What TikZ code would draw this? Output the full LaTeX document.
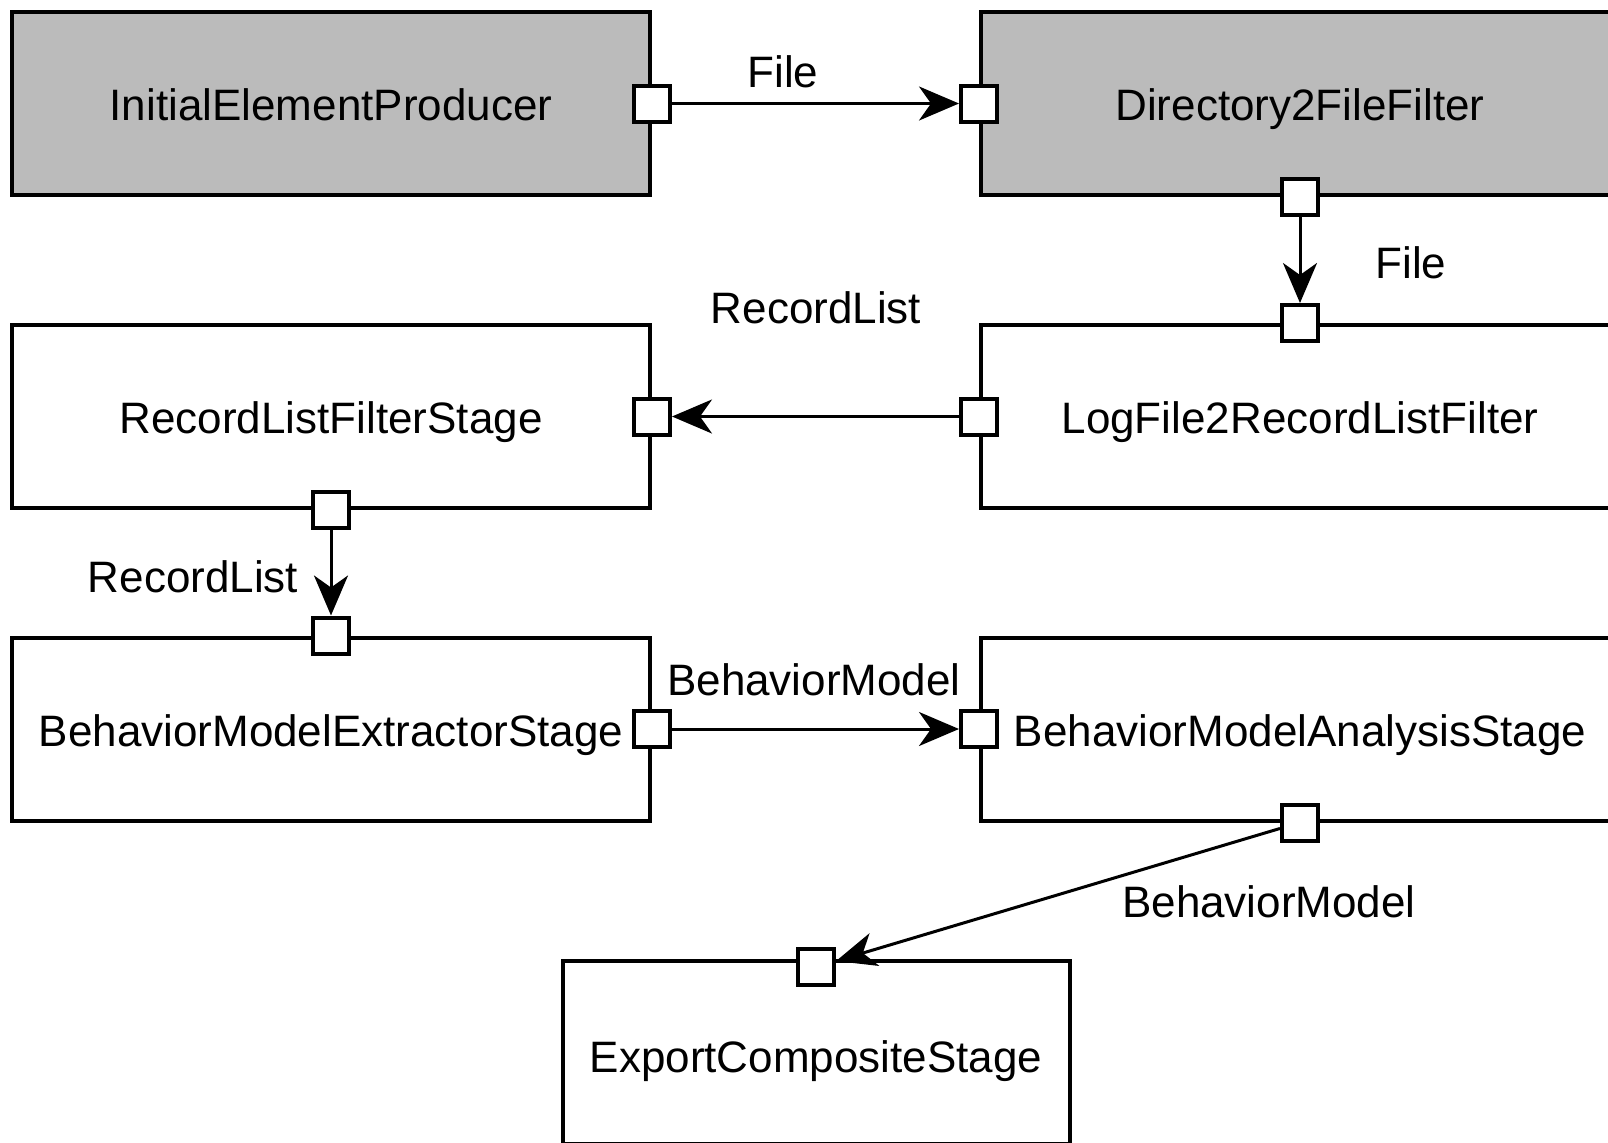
\documentclass[tikz,border=0pt]{standalone}
\usepackage{fontspec}
\setmainfont{Liberation Sans}
\usetikzlibrary{arrows.meta}
\definecolor{boxgray}{RGB}{187,187,187}
\begin{document}
\begin{tikzpicture}[x=0.5pt,y=-0.5pt,
  comp/.style={draw, line width=2pt, minimum width=319pt, minimum height=91.5pt, inner sep=0pt, text height=17pt, text depth=0pt, font=\fontsize{22}{26}\selectfont},
  active/.style={comp, fill=boxgray},
  port/.style={draw, line width=2pt, fill=white, minimum size=18pt, inner sep=0pt},
  conn/.style={line width=1.5pt, -{Stealth[length=20pt,width=17pt,inset=6pt]}},
  lbl/.style={font=\fontsize{22}{26}\selectfont, inner sep=0pt}]
\clip (0,0) rectangle (1608,1142);
\fill[white] (0,0) rectangle (1608,1142);
% components
\node[active] (ie)  at (331,103.5) {InitialElementProducer};
\node[active] (d2f) at (1300,103.5) {Directory2FileFilter};
\node[comp]   (rl)  at (331,416.5) {RecordListFilterStage};
\node[comp]   (lf)  at (1300,416.5) {LogFile2RecordListFilter};
\node[comp]   (bme) at (331,729) {BehaviorModelExtractorStage};
\node[comp]   (bma) at (1300,729) {BehaviorModelAnalysisStage};
\node[comp, minimum width=253.5pt, text height=20pt] (ecs) at (816,1052.5) {ExportCompositeStage};
% ports
\node[port] (p1)  at (ie.east) {};
\node[port] (p2)  at (d2f.west) {};
\node[port] (p3)  at (d2f.south) {};
\node[port] (p4)  at (lf.north) {};
\node[port] (p5)  at (lf.west) {};
\node[port] (p6)  at (rl.east) {};
\node[port] (p7)  at (rl.south) {};
\node[port] (p8)  at (bme.north) {};
\node[port] (p9)  at (bme.east) {};
\node[port] (p10) at (bma.west) {};
\node[port] (p11) at (bma.south) {};
\node[port] (p12) at ([yshift=-4pt]ecs.north) {};
% connectors
\draw[conn] (p1) -- (p2);
\draw[conn] (p3) -- (p4);
\draw[conn] (p5) -- (p6);
\draw[conn] (p7) -- (p8);
\draw[conn] (p9) -- (p10);
\draw[conn] (p11) -- (p12);
% labels
\node[lbl] (l1) at (783,72) {File};
\node[lbl] (l2) at (1411,263) {File};
\node[lbl] (l3) at (816,308) {RecordList};
\node[lbl] (l4) at (193,577) {RecordList};
\node[lbl] (l5) at (814,680) {BehaviorModel};
\node[lbl] (l6) at (1269,902) {BehaviorModel};
\end{tikzpicture}
\end{document}
